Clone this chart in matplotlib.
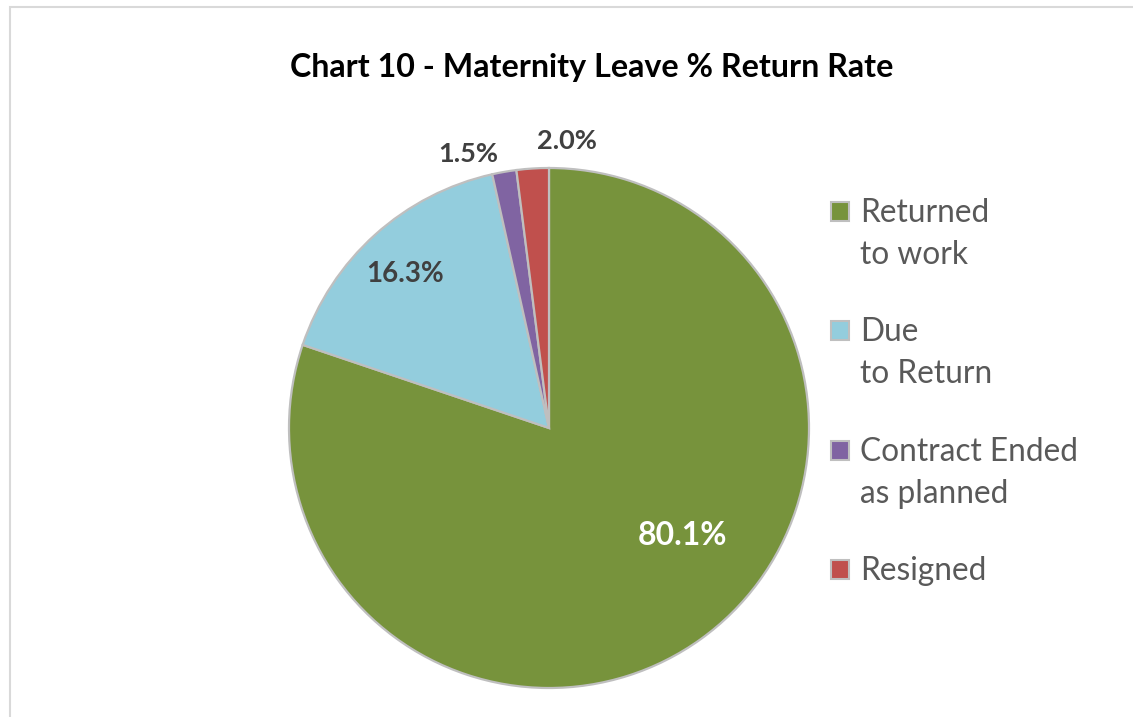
import numpy as np
import matplotlib
matplotlib.use("Agg")
import matplotlib.pyplot as plt
from matplotlib.patches import Rectangle

# data
labels = ["Returned\nto work", "Due\nto Return", "Contract Ended\nas planned", "Resigned"]
values = [80.1, 16.3, 1.5, 2.0]
pct_text = ["80.1%", "16.3%", "1.5%", "2.0%"]
colors = ["#77933C", "#93CDDD", "#8064A2", "#C0504D"]
pct_colors = ["white", "#404040", "#404040", "#404040"]

plt.rcParams["font.family"] = ["Lato", "DejaVu Sans"]

W, H = 1133, 717
fig = plt.figure(figsize=(W / 100, H / 100), dpi=100)

def px(x, y):
    # pixel (from top-left) -> figure fraction
    return x / W, 1 - y / H

# outer chart frame (runs off the right and bottom edges)
fig.patches.append(Rectangle(px(10, 760), 1.2, (760 - 7) / H, transform=fig.transFigure,
                             fill=False, edgecolor="#D9D9D9", linewidth=1.5, clip_on=False))

# pie axes: center (549, 428), radius 260 px
cx, cy, r = 549, 428, 260
ax = fig.add_axes([(cx - r) / W, (H - cy - r) / H, 2 * r / W, 2 * r / H])
wedges, _ = ax.pie(values, colors=colors, startangle=90, counterclock=False,
                   wedgeprops=dict(edgecolor="#BFBFBF", linewidth=1.6))
ax.set_xlim(-1, 1)
ax.set_ylim(-1, 1)
ax.set_aspect("equal")
ax.axis("off")

# percentage labels (Excel "best fit" style placement)
label_r = [0.66, 0.81, 1.10, 1.106]
label_dang = [15.6, 1.0, 6.5, -7.2]
label_size = [23, 20, 19.5, 19.5]
for w, t, c, lr, da, fs in zip(wedges, pct_text, pct_colors, label_r, label_dang, label_size):
    ang = np.deg2rad((w.theta1 + w.theta2) / 2 + da)
    ax.text(lr * np.cos(ang), lr * np.sin(ang), t, color=c, fontsize=fs,
            fontweight="bold", ha="center", va="center", clip_on=False)

# title
fig.text(*px(592, 68), "Chart 10 - Maternity Leave % Return Rate", fontsize=23.2,
         fontweight="bold", color="black", ha="center", va="center")

# legend (square aligned with first line, as in Excel)
base0, pitch, line_gap = 222, 119.3, 42
for i, (lab, col) in enumerate(zip(labels, colors)):
    b = base0 + i * pitch
    fig.patches.append(Rectangle(px(831, b - 1), 18 / W, 19 / H, transform=fig.transFigure,
                                 facecolor=col, edgecolor="#BFBFBF", linewidth=1.5))
    for k, line in enumerate(lab.split("\n")):
        fig.text(*px(860, b + k * line_gap), line, fontsize=22.8, color="#595959",
                 ha="left", va="baseline")

fig.savefig("out.png", dpi=100, facecolor="white")
